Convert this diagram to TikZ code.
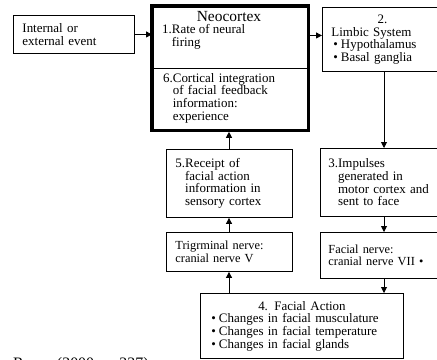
\documentclass[tikz,border=0pt]{standalone}
\usepackage{fontspec}
\setmainfont{Liberation Serif}
\usetikzlibrary{arrows.meta}
\newcommand{\bul}{\textbullet\hspace{3bp}}
\newcommand{\ctr}[1]{\makebox[\linewidth][c]{#1}}
\begin{document}
\begin{tikzpicture}[x=1bp,y=-1bp,
  txt/.style={font=\fontsize{13}{12.7}\selectfont},
  box/.style={draw, line width=0.9bp, anchor=north west, inner ysep=0pt, align=left, txt},
  arr/.style={-{Triangle[length=6bp,width=6bp]}, line width=0.9bp}]
\useasboundingbox (0,0) rectangle (437,359);
% boxes
\node[box, inner xsep=9bp, text width=103bp, minimum height=38bp] (event) at (13,15)
  {Internal or\\external event};
\node[draw, line width=1.3bp, anchor=north west, minimum width=155bp, minimum height=62bp, inner sep=0pt] (neotop) at (152,6) {};
\node[draw, line width=1.3bp, anchor=north west, minimum width=155bp, minimum height=61bp, inner sep=0pt] (neobot) at (152,68) {};
\draw[line width=3.2bp] (neotop.north west) rectangle (neobot.south east);
\node[anchor=base, font=\fontsize{15.5}{16}\selectfont, inner sep=0pt] (neotitle) at (229,21) {Neocortex};
\node[anchor=base west, txt, align=left, inner sep=0pt] (neo1) at (162,46)
  {1.Rate of neural\\\phantom{1.}firing};
\node[anchor=center, txt, align=left, inner sep=0pt, text width=138bp] (neo6) at ([xshift=2bp,yshift=1bp]neobot.center)
  {6.Cortical integration\\\phantom{6.}of facial feedback\\\phantom{6.}information:\\\phantom{6.}experience};
\node[box, inner xsep=9bp, text width=102bp, minimum height=64bp] (limbic) at (322,7)
  {\ctr{2.}\\Limbic System\\\hspace*{2bp}\bul Hypothalamus\\\hspace*{2bp}\bul Basal ganglia};
\node[box, inner xsep=8bp, text width=104bp, minimum height=68bp] (imp) at (320,148)
  {3.Impulses\\\phantom{3.}generated in\\\phantom{3.}motor cortex and\\\phantom{3.}sent to face};
\node[box, inner xsep=8bp, text width=104bp, minimum height=46bp, font=\fontsize{12.4}{12.7}\selectfont] (facn) at (320,232)
  {Facial nerve:\\cranial nerve VII \textbullet};
\node[box, inner xsep=9bp, text width=108bp, minimum height=68bp] (rec) at (166,149)
  {5.Receipt of\\\phantom{5.}facial action\\\phantom{5.}information in\\\phantom{5.}sensory cortex};
\node[box, inner xsep=9bp, text width=108bp, minimum height=39bp, font=\fontsize{12.4}{12.7}\selectfont] (trig) at (166,232)
  {Trigrminal nerve:\\cranial nerve V};
\node[box, inner xsep=11bp, text width=181bp, minimum height=65bp] (fa) at (200,293)
  {\ctr{4. Facial Action}\\\bul Changes in facial musculature\\\bul Changes in facial temperature\\\bul Changes in facial glands};
% source line (cut off at the bottom, as in the reference)
\node[anchor=base west, inner sep=0pt, font=\fontsize{16}{18}\selectfont] (src) at (1,368) {n Reeve (2000, p. 237)};
% connectors
\coordinate (rx) at (384,0);
\coordinate (lx) at (229,0);
\draw[arr] (event.east) -- (event.east -| neotop.west);
\draw[arr] ([yshift=-1bp]event.east -| neotop.east) -- ([yshift=-1bp]event.east -| limbic.west);
\draw[arr] (limbic.south -| rx) -- (imp.north -| rx);
\draw[arr] (imp.south -| rx) -- (facn.north -| rx);
\draw[arr] (facn.south -| rx) -- (fa.north -| rx);
\draw[arr] (fa.north -| lx) -- (trig.south -| lx);
\draw[arr] (trig.north -| lx) -- (rec.south -| lx);
\draw[arr, shorten >=1.5bp] (rec.north -| lx) -- (neobot.south -| lx);
\end{tikzpicture}
\end{document}
